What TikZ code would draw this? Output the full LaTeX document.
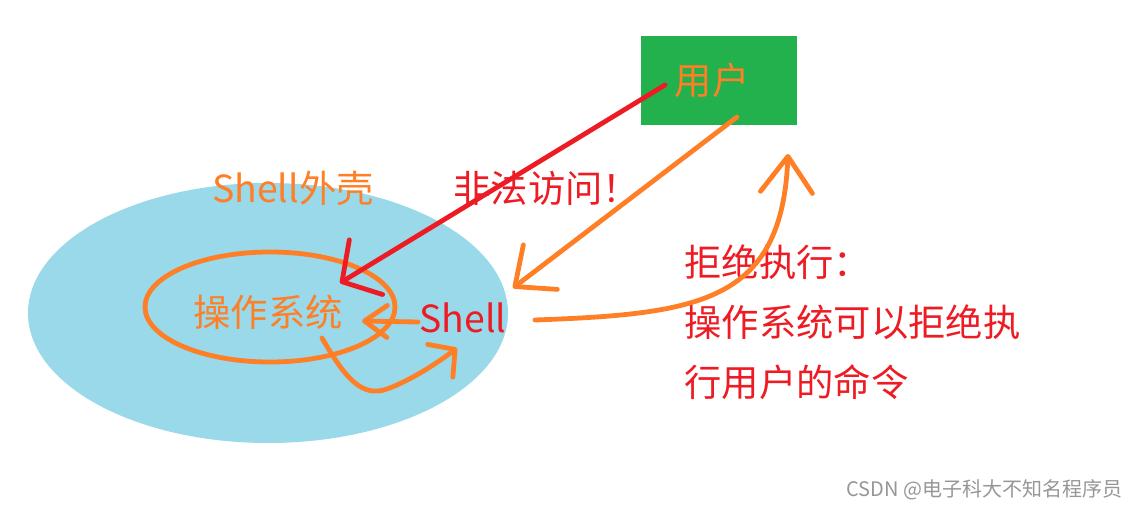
\documentclass[tikz,border=0pt]{standalone}
\usepackage{fontspec}
\setmainfont{Noto Sans CJK SC}
\usetikzlibrary{arrows.meta,shapes.geometric}
\definecolor{paintorange}{RGB}{255,127,39}
\definecolor{paintred}{RGB}{237,28,36}
\definecolor{paintgreen}{RGB}{34,177,76}
\definecolor{paintblue}{RGB}{153,217,234}
\definecolor{markgray}{RGB}{150,150,150}
\tikzset{every picture/.style={line width=0.75pt}}
\tikzset{
  bigtext/.style={font=\fontsize{28}{45}\selectfont, inner sep=0.75pt},
  stroke/.style={line width=3.6pt, line cap=round, line join=round},
  barb/.style 2 args={-{Straight Barb[length=#1pt,width=#2pt,round]}},
}

\begin{document}
\begin{tikzpicture}[x=0.75pt,y=0.75pt,yscale=-1,xscale=1]
\useasboundingbox (0,0) rectangle (1138,509);

%Shape: Ellipse [shell]
\node [ellipse, fill=paintblue, inner sep=0pt, minimum width=360pt, minimum height=195pt] (shellbg) at (268,313) {};
%Shape: Rectangle [user]
\node [fill=paintgreen, inner sep=0pt, minimum width=117pt, minimum height=66.75pt] (userbox) at (719,80.5) {};
%Shape: Ellipse [os ring]
\node [ellipse, draw=paintorange, stroke, inner sep=0pt, minimum width=187.5pt, minimum height=82.5pt] (osring) at (270,307) {};

% Text Node
\node [bigtext, text=paintorange] (usertext) at (712,80) {用户};
% Text Node
\node [bigtext, text=paintorange] (ostext) at (268,312) {操作系统};
% Text Node
\node [bigtext, text=paintred] (shelltext) at (463,318) {Shell};
% Text Node
\node [bigtext, text=paintorange] (shelllabel) at (293,188) {Shell外壳};
% Text Node
\node [bigtext, text=paintred, anchor=west] (illegal) at (452,188) {非法访问！};
% Text Node
\node [bigtext, text=paintred, anchor=west, align=left] (reject) at (683,322) {拒绝执行：\\操作系统可以拒绝执\\行用户的命令};
% Text Node
\node [font=\fontsize{15}{18}\selectfont, text=markgray, anchor=east, inner sep=0pt] (mark) at (1123,490) {CSDN @电子科大不知名程序员};

\coordinate (redstart) at (665,85);
\coordinate (redtip) at (340,283);
\coordinate (orangestart) at (737,117);
\coordinate (shellin) at (513,288);
\coordinate (shellout) at (418,322);
\coordinate (osin) at (362,321);
\coordinate (loopstart) at (322,338);
\coordinate (looptip) at (457,348);
\coordinate (backstart) at (535,320);
\coordinate (backtip) at (788,154);

%Straight Lines [illegal access]
\draw [stroke, paintred, barb={21}{48}] (redstart) -- (redtip);
%Straight Lines [user to shell]
\draw [stroke, paintorange, barb={24}{42}] (orangestart) -- (shellin);
%Straight Lines [shell to os]
\draw [stroke, paintorange, barb={17}{24}] (shellout) -- (osin);
%Curve Lines [os back to shell]
\draw [stroke, paintorange, barb={14}{31}] (loopstart) .. controls (345,378) and (362,398) .. (387,389) .. controls (412,380) and (440,361) .. (looptip);
%Curve Lines [refusal back to user]
\draw [stroke, paintorange, barb={27}{39}] (backstart) .. controls (700,314) and (782,302) .. (backtip);

\end{tikzpicture}
\end{document}
